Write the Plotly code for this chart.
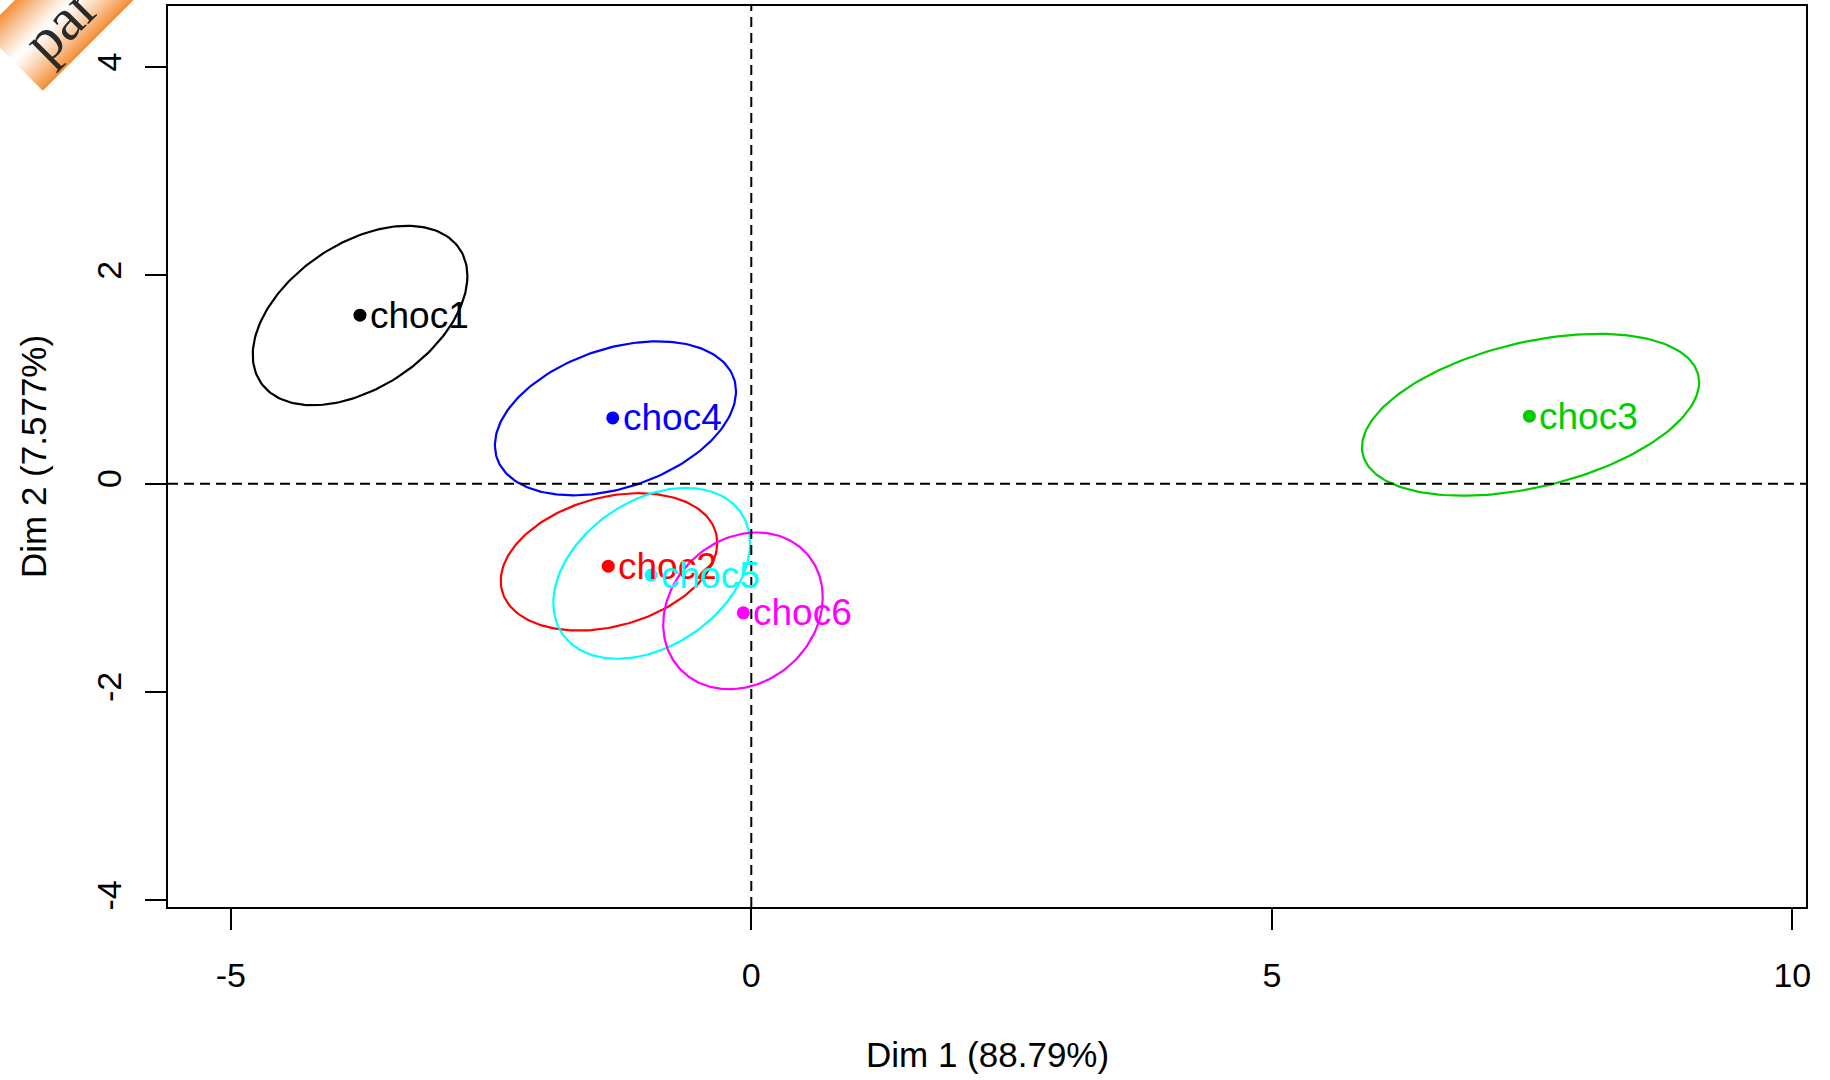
import numpy as np
import plotly.graph_objects as go

# Product coordinates on the first two dimensions
products = ["choc1", "choc2", "choc3", "choc4", "choc5", "choc6"]
dim1 = [-3.759, -1.374, 7.474, -1.331, -0.963, -0.077]
dim2 = [1.618, -0.791, 0.649, 0.632, -0.877, -1.239]

# Confidence ellipses: centre, half-extent along each axis and covariance term
ell_cx = [-3.758, -1.367, 7.485, -1.305, -0.957, -0.080]
ell_cy = [1.615, -0.750, 0.662, 0.628, -0.860, -1.220]
ell_sx = [1.031, 1.040, 1.619, 1.158, 0.945, 0.766]
ell_sy = [0.861, 0.659, 0.777, 0.739, 0.820, 0.752]
ell_cov = [0.390, 0.190, 0.505, 0.300, 0.270, 0.100]

colors = ["#000000", "#FF0000", "#00CD00", "#0000FF", "#00FFFF", "#FF00FF"]

x_ticks = [-5, 0, 5, 10]
y_ticks = [-4, -2, 0, 2, 4]
x_title = "Dim 1 (88.79%)"
y_title = "Dim 2 (7.577%)"
ribbon_text = "par"

W, H = 1830, 1080
ML, MR, MT, MB = 168, 24, 6, 173
PW, PH = W - ML - MR, H - MT - MB
X_RANGE = [-5.603, 10.131]
Y_RANGE = [-4.063, 4.586]

FONT = "Liberation Sans, Arial, sans-serif"


def ellipse(cx, cy, sx, sy, c, n=200):
    t = np.linspace(0, 2 * np.pi, n)
    l21 = c / sx
    l22 = np.sqrt(max(sy ** 2 - l21 ** 2, 1e-9))
    return cx + sx * np.cos(t), cy + l21 * np.cos(t) + l22 * np.sin(t)


def to_paper(px, py):
    return (px - ML) / PW, (MT + PH - py) / PH


fig = go.Figure()

for i in range(len(products)):
    ex, ey = ellipse(ell_cx[i], ell_cy[i], ell_sx[i], ell_sy[i], ell_cov[i])
    fig.add_trace(go.Scatter(
        x=ex, y=ey, mode="lines",
        line=dict(color=colors[i], width=2.2),
        hoverinfo="skip", showlegend=False,
    ))

for i, name in enumerate(products):
    fig.add_trace(go.Scatter(
        x=[dim1[i]], y=[dim2[i]], mode="markers",
        marker=dict(color=colors[i], size=13),
        showlegend=False, name=name,
    ))

# point labels, written just to the right of each point
annotations = []
for i, name in enumerate(products):
    annotations.append(dict(
        text=name, x=dim1[i], y=dim2[i], xref="x", yref="y",
        xanchor="left", yanchor="middle", xshift=8, yshift=0,
        showarrow=False,
        font=dict(family=FONT, size=37, color=colors[i]),
    ))

shapes = []
# dashed reference lines through the origin
shapes.append(dict(type="line", xref="x", yref="paper", x0=0, x1=0, y0=0, y1=1,
                   line=dict(color="black", width=2, dash="10px,6px"), layer="above"))
shapes.append(dict(type="line", xref="paper", yref="y", x0=0, x1=1, y0=0, y1=0,
                   line=dict(color="black", width=2, dash="10px,6px"), layer="above"))

# orange corner ribbon, shaded white towards its centre line
s_lo, s_hi, s_mid, cap = 15.0, 133.0, 74.0, -48.0
n_strips = 30
edges = np.linspace(s_lo, s_hi, n_strips + 1)
orange = np.array([245, 140, 50])
white = np.array([255, 255, 255])
for k in range(n_strips):
    a, b = edges[k], edges[k + 1]
    m = 0.5 * (a + b)
    f = min(abs(m - s_mid) / (s_hi - s_mid), 1.0) ** 1.2
    col = (white * (1 - f) + orange * f).astype(int)
    b2 = b + 0.6
    pts = [((a + cap) / 2, (a - cap) / 2), ((a + 600) / 2, (a - 600) / 2),
           ((b2 + 600) / 2, (b2 - 600) / 2), ((b2 + cap) / 2, (b2 - cap) / 2)]
    pp = [to_paper(px, py) for px, py in pts]
    path = "M " + " L ".join(f"{x:.5f},{y:.5f}" for x, y in pp) + " Z"
    shapes.append(dict(type="path", xref="paper", yref="paper", path=path,
                       fillcolor=f"rgb({col[0]},{col[1]},{col[2]})",
                       line=dict(width=0), layer="above"))

rx, ry = to_paper(60, 24)
tx, ty = to_paper(987, 1054)
yx, yy = to_paper(33, 457)

annotations += [
    dict(text=ribbon_text, x=rx, y=ry, xref="paper", yref="paper",
         xanchor="center", yanchor="middle", textangle=-45, showarrow=False,
         font=dict(family="Liberation Serif, serif", size=60, color="#2a2a2a")),
    dict(text=x_title, x=tx, y=ty, xref="paper", yref="paper",
         xanchor="center", yanchor="middle", showarrow=False,
         font=dict(family=FONT, size=35, color="black")),
    dict(text=y_title, x=yx, y=yy, xref="paper", yref="paper",
         xanchor="center", yanchor="middle", textangle=-90, showarrow=False,
         font=dict(family=FONT, size=35, color="black")),
]

axis_common = dict(
    showgrid=False, zeroline=False, showline=True, mirror=True,
    linecolor="black", linewidth=2, ticks="outside", ticklen=21,
    tickwidth=2, tickcolor="black",
    tickfont=dict(family=FONT, size=34, color="black"),
)

fig.update_layout(
    width=W, height=H,
    margin=dict(l=ML, r=MR, t=MT, b=MB, autoexpand=False),
    paper_bgcolor="white", plot_bgcolor="white",
    xaxis=dict(range=X_RANGE, tickvals=x_ticks, ticktext=[str(v) for v in x_ticks],
               ticklabelstandoff=16, **axis_common),
    yaxis=dict(range=Y_RANGE, tickvals=y_ticks, ticktext=[str(v) for v in y_ticks],
               tickangle=-90, ticklabelstandoff=10, **axis_common),
    shapes=shapes, annotations=annotations,
)

fig.write_html("out.html")
